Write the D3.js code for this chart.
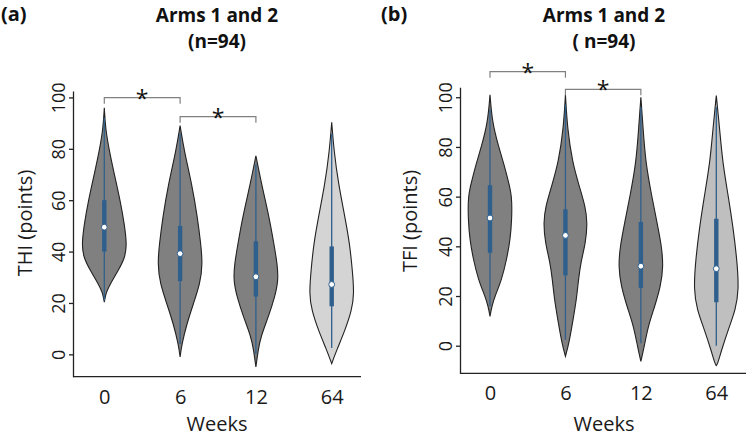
<!DOCTYPE html>
<html><head><meta charset="utf-8">
<script src="https://cdn.jsdelivr.net/npm/d3@7"></script>
<style>
body{margin:0;background:#fff;}
svg{display:block;font-family:"Open Sans",sans-serif;}
</style></head>
<body><svg id="c" width="749" height="439"></svg>
<script>
// ---------- data ----------
const weeks = ["0", "6", "12", "64"];
const yTicks = [0, 20, 40, 60, 80, 100];

// panel (a) THI : violin density profiles [value, relative density]
const thiProfile0  = [[96,0],[88,0.05],[79.3,0.22],[71.5,0.41],[59.8,0.71],[50.8,0.89],[43,1.0],[37.8,0.93],[32.6,0.62],[27.5,0.27],[24.2,0.08],[20.3,0]];
const thiProfile6  = [[89,0],[79.3,0.18],[66.3,0.52],[53.4,0.77],[43,0.92],[35.2,1.0],[27.5,0.89],[19.7,0.59],[11.9,0.3],[4.1,0.08],[-1,0]];
const thiProfile12 = [[77.3,0],[66.3,0.25],[53.4,0.59],[43,0.8],[35.2,0.95],[28.8,1.0],[22.3,0.84],[14.5,0.55],[6.7,0.21],[1.6,0.1],[-4.9,0]];
const thiProfile64 = [[90.3,0],[79.3,0.1],[66.3,0.3],[53.4,0.59],[43,0.8],[32.6,0.92],[23.6,1.0],[17.1,0.89],[9.3,0.59],[1.6,0.22],[-3.6,0]];
// box stats [whiskerLow, q1, median, q3, whiskerHigh]
const thiBox0  = [21, 40, 49.5, 60, 92];
const thiBox6  = [4, 28.5, 39.2, 50, 86];
const thiBox12 = [0, 22.5, 30.2, 44, 74];
const thiBox64 = [2.5, 18.7, 27.2, 42, 86];

// panel (b) TFI
const tfiProfile0  = [[101,0],[89.9,0.1],[80.5,0.37],[72.4,0.64],[67,0.79],[60.3,0.98],[50.9,0.97],[42.8,0.9],[34.7,0.74],[26.6,0.52],[19.9,0.22],[15.9,0.08],[11.8,0]];
const tfiProfile6  = [[101,0],[87.2,0.09],[73.8,0.31],[64.3,0.61],[56.3,0.88],[49.5,0.98],[41.5,0.9],[33.4,0.68],[26.6,0.58],[18.6,0.49],[10.5,0.34],[1.1,0.16],[-4.3,0]];
const tfiProfile12 = [[100,0],[87.2,0.1],[73.8,0.21],[60.3,0.48],[49.5,0.72],[40.1,0.92],[32,1.0],[24,0.88],[15.9,0.62],[7.8,0.32],[-0.3,0.15],[-6.3,0]];
const tfiProfile64 = [[100.7,0],[87.2,0.15],[73.8,0.28],[60.3,0.53],[46.8,0.76],[33.4,0.93],[22.6,1.0],[14.5,0.86],[6.5,0.53],[-1.6,0.24],[-7.5,0.05],[-8,0]];
const tfiBox0  = [16, 37.4, 51.4, 64.6, 95];
const tfiBox6  = [2.4, 28.3, 44.4, 54.9, 97];
const tfiBox12 = [1, 23.3, 32, 49.8, 96];
const tfiBox64 = [0, 17.5, 31, 51.1, 96];

// significance pairs
const sigPairs = [["0","6"],["6","12"]];

// ---------- drawing ----------
const svg = d3.select("#c");
const C = {dark:"#808080", lightA:"#d4d4d4", lightB:"#bfbfbf", outline:"#222", blue:"#2f5f8d"};

function panel(o){
  const g = svg.append("g");
  const x = d3.scalePoint().domain(weeks).range(o.xr);
  const y = d3.scaleLinear().domain(o.yd).range(o.yr);
  const w = d3.scaleLinear().domain([0,1]).range([0,22.5]);

  // y axis
  const ya = g.append("g").attr("transform",`translate(${o.axX},0)`)
    .call(d3.axisLeft(y).tickValues(yTicks).tickSize(4).tickSizeOuter(0).tickFormat(d3.format("d")));
  ya.select(".domain").attr("stroke","#222").attr("stroke-width",1.3);
  ya.selectAll(".tick line").attr("stroke","#222").attr("stroke-width",1.3);
  ya.selectAll(".tick text").attr("transform","rotate(-90)").attr("x",0).attr("y",-8)
    .attr("dy",0).attr("text-anchor","middle").attr("font-size",18).attr("fill","#1a1a1a")
    .attr("font-family","'Open Sans',sans-serif");

  // x axis
  const xa = g.append("g").attr("transform",`translate(0,${o.yr[0]})`)
    .call(d3.axisBottom(x).tickSize(0).tickPadding(13));
  xa.select(".domain").remove();
  xa.append("line").attr("x1",o.axX).attr("x2",o.axX2).attr("stroke","#222").attr("stroke-width",1.3);
  xa.selectAll(".tick text").attr("font-size",20).attr("fill","#1a1a1a").attr("font-family","'Open Sans',sans-serif");

  // violins
  const area = d3.area().curve(d3.curveBasis)
    .y(d=>y(d[0])).x0(d=>-w(d[1])).x1(d=>w(d[1]));
  weeks.forEach((wk,i)=>{
    const vg = g.append("g").attr("transform",`translate(${x(wk)},0)`);
    vg.append("path").datum(o.profiles[i]).attr("d",area)
      .attr("fill", i===3 ? o.light : C.dark).attr("stroke",C.outline).attr("stroke-width",1.1);
    const b = o.boxes[i];
    vg.append("line").attr("x1",0).attr("x2",0).attr("y1",y(b[0])).attr("y2",y(b[4]))
      .attr("stroke",C.blue).attr("stroke-width",1.3);
    vg.append("rect").attr("x",-2.2).attr("width",4.4).attr("y",y(b[3])).attr("height",y(b[1])-y(b[3]))
      .attr("fill",C.blue);
    vg.append("circle").attr("cx",0).attr("cy",y(b[2])).attr("r",2.9)
      .attr("fill","#fff").attr("stroke",C.blue).attr("stroke-width",1);
  });

  // significance brackets
  sigPairs.forEach((p,i)=>{
    const by = o.brY[i], x1 = x(p[0]), x2 = x(p[1]);
    g.append("path").attr("d",`M${x1},${by+6}V${by}H${x2}V${by+6}`)
      .attr("fill","none").attr("stroke","#808080").attr("stroke-width",1.2);
    g.append("text").attr("x",(x1+x2)/2).attr("y",by+9).attr("text-anchor","middle")
      .attr("font-size",23).attr("fill","#111").text("*");
  });

  // titles
  g.append("text").attr("x",o.tx).attr("y",22).attr("text-anchor","middle")
    .attr("font-size",19).attr("font-weight","bold").attr("fill","#111").text("Arms 1 and 2");
  g.append("text").attr("x",o.tx).attr("y",48).attr("text-anchor","middle")
    .attr("font-size",19).attr("font-weight","bold").attr("fill","#111").text(o.n);
  g.append("text").attr("x",o.lx).attr("y",21)
    .attr("font-size",20).attr("font-weight","bold").attr("fill","#111").text(o.tag);
  g.append("text").attr("transform",`translate(${o.ylx},${o.yly}) rotate(-90)`)
    .attr("text-anchor","middle").attr("dy","0.35em").attr("font-size",20).attr("fill","#1a1a1a").text(o.ylab);
  g.append("text").attr("x",o.wx).attr("y",431).attr("text-anchor","middle")
    .attr("font-size",20).attr("fill","#1a1a1a").text("Weeks");
}

panel({xr:[104.3,331.7], yd:[-8.7,102.5], yr:[376.7,91], axX:73, axX2:361,
  profiles:[thiProfile0,thiProfile6,thiProfile12,thiProfile64],
  boxes:[thiBox0,thiBox6,thiBox12,thiBox64], light:C.lightA,
  brY:[97.7,116.7], tx:217, n:"(n=94)", lx:1, tag:"(a)", ylab:"THI (points)", ylx:25, yly:223, wx:217});

panel({xr:[490,716.3], yd:[-11.1,104], yr:[373.3,87.3], axX:460, axX2:746,
  profiles:[tfiProfile0,tfiProfile6,tfiProfile12,tfiProfile64],
  boxes:[tfiBox0,tfiBox6,tfiBox12,tfiBox64], light:C.lightB,
  brY:[71.7,89.3], tx:604, n:"( n=94)", lx:381, tag:"(b)", ylab:"TFI (points)", ylx:410, yly:221, wx:604});
</script></body></html>
